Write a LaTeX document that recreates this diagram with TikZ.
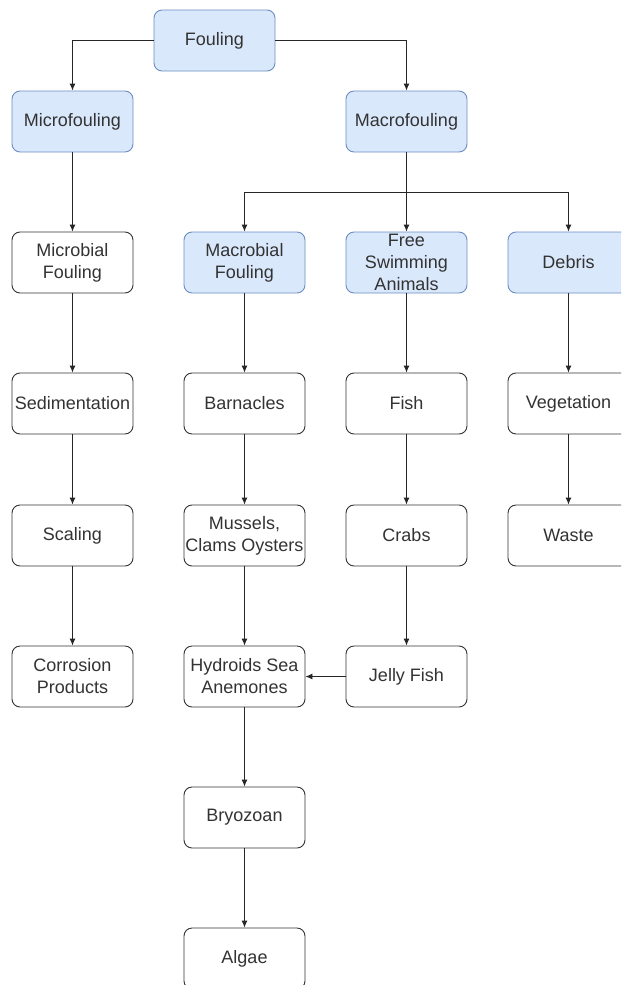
\documentclass[tikz,border=0pt]{standalone}
\usepackage{fontspec}
\setmainfont{Liberation Sans}
\usetikzlibrary{arrows.meta}
\definecolor{bfill}{HTML}{DAE8FC}
\definecolor{bline}{HTML}{6C8EBF}
\definecolor{tcol}{HTML}{333333}
\tikzset{
  box/.style={draw=black!80, line width=0.9pt, rounded corners=8pt, fill=white,
    minimum width=121pt, minimum height=61pt, inner sep=0pt, align=center,
    text=tcol, font=\fontsize{18}{22}\selectfont},
  bluebox/.style={box, draw=bline, fill=bfill},
  conn/.style={draw=black!85, line width=0.9pt, -{Latex[length=7pt,width=6pt]}},
  plain/.style={draw=black!85, line width=0.9pt}
}
\begin{document}
\begin{tikzpicture}[x=1pt,y=-1pt]
\useasboundingbox (0,0) rectangle (621,985);
\clip (0,0) rectangle (621,985);
\node[bluebox] (fouling) at (214.5,40.5) {Fouling};
\node[bluebox] (micro) at (72.5,121.5) {Microfouling};
\node[bluebox] (macro) at (406.5,121.5) {Macrofouling};
\node[box] (microbial) at (72.5,262.5) {Microbial\\Fouling};
\node[bluebox] (macrobial) at (244.5,262.5) {Macrobial\\Fouling};
\node[bluebox] (free) at (406.5,262.5) {Free\\Swimming\\Animals};
\node[bluebox] (debris) at (568.5,262.5) {Debris};
\node[box] (sed) at (72.5,403.5) {Sedimentation};
\node[box] (barn) at (244.5,403.5) {Barnacles};
\node[box] (fish) at (406.5,403.5) {Fish};
\node[box] (veg) at (568.5,403.5) {Vegetation};
\node[box] (scaling) at (72.5,535.5) {Scaling};
\node[box] (mussels) at (244.5,535.5) {Mussels,\\Clams Oysters};
\node[box] (crabs) at (406.5,535.5) {Crabs};
\node[box] (waste) at (568.5,535.5) {Waste};
\node[box] (corr) at (72.5,676.5) {Corrosion\\Products};
\node[box] (hydro) at (244.5,676.5) {Hydroids Sea\\Anemones};
\node[box] (jelly) at (406.5,676.5) {Jelly Fish};
\node[box] (bryo) at (244.5,817.5) {Bryozoan};
\node[box] (algae) at (244.5,958.5) {Algae};
\coordinate (split) at (406.5,192);
% connectors
\draw[conn] (fouling.west) -| (micro.north);
\draw[conn] (fouling.east) -| (macro.north);
\draw[conn] (micro) -- (microbial);
\draw[plain] (macro.south) -- (split);
\draw[conn] (split) -| (macrobial.north);
\draw[conn] (split) -- (free.north);
\draw[conn] (split) -| (debris.north);
\draw[conn] (microbial) -- (sed);
\draw[conn] (sed) -- (scaling);
\draw[conn] (scaling) -- (corr);
\draw[conn] (macrobial) -- (barn);
\draw[conn] (barn) -- (mussels);
\draw[conn] (mussels) -- (hydro);
\draw[conn] (hydro) -- (bryo);
\draw[conn] (bryo) -- (algae);
\draw[conn] (free) -- (fish);
\draw[conn] (fish) -- (crabs);
\draw[conn] (crabs) -- (jelly);
\draw[conn] (jelly) -- (hydro);
\draw[conn] (debris) -- (veg);
\draw[conn] (veg) -- (waste);
\end{tikzpicture}
\end{document}
